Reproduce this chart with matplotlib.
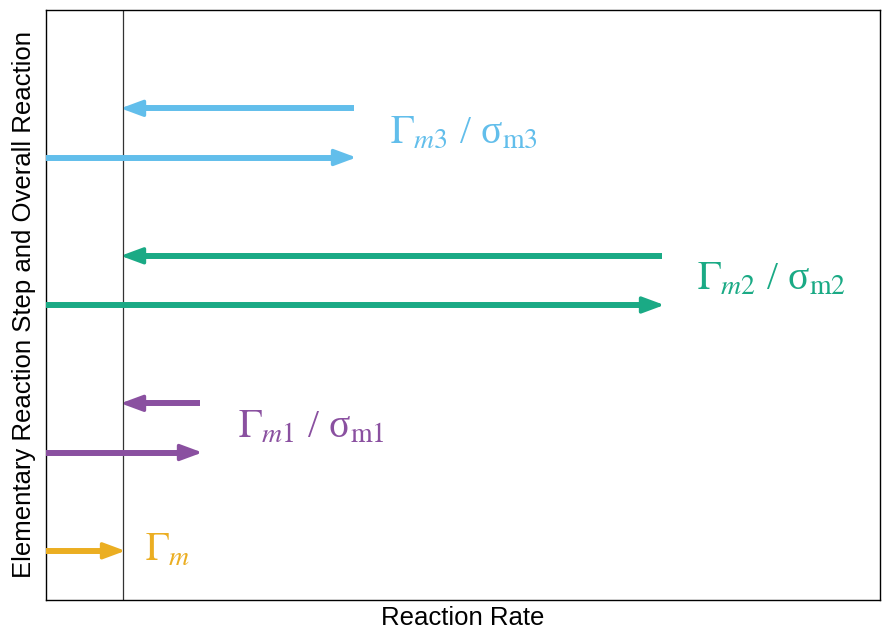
import matplotlib
matplotlib.use("Agg")
import matplotlib.pyplot as plt

plt.rcParams['mathtext.fontset'] = 'stix'
plt.rcParams['font.family'] = ['Liberation Sans', 'DejaVu Sans']

# data
steps = ["m", "m1", "m2", "m3"]
colors = ["#EBAE22", "#8A50A0", "#1AAA85", "#62BEEB"]
forward_rate = [1, 2, 8, 4]
backward_rate = [None, 2, 8, 4]
forward_y = [1, 3, 6, 9]
backward_y = [None, 4, 7, 10]
net_rate = 1
labels = [r"$\Gamma_{m}$",
          r"$\Gamma_{m1}$ / σ$_{\rm m1}$",
          r"$\Gamma_{m2}$ / σ$_{\rm m2}$",
          r"$\Gamma_{m3}$ / σ$_{\rm m3}$"]
label_x = [1.29, 2.49, 8.45, 4.47]
label_y = [1, 3.5, 6.5, 9.5]

fig = plt.figure(figsize=(8.82, 6.31), dpi=100)
ax = fig.add_axes([46/882, 1-600/631, (880-46)/882, (600-10)/631])
ax.set_xlim(0, 834/77)
ax.set_ylim(0, 12)

ax.axvline(net_rate, color="#333333", lw=0.9, zorder=1)

head_span = 0.12  # data length used only to orient the head


def arrow(x0, x1, y, c):
    d = 1 if x1 > x0 else -1
    ax.hlines(y, x0, x1 - d * 0.1, color=c, lw=4.3, capstyle="butt", zorder=3)
    ax.annotate("", xy=(x1 + d * 0.03, y), xytext=(x1 - d * head_span, y),
                arrowprops=dict(arrowstyle="-|>,head_length=1.35,head_width=0.5",
                                mutation_scale=10, lw=2.5, color=c,
                                shrinkA=0, shrinkB=0, joinstyle="round"),
                zorder=4)


for i in range(len(steps)):
    c = colors[i]
    arrow(0, forward_rate[i], forward_y[i], c)
    if backward_rate[i] is not None:
        arrow(backward_rate[i], net_rate, backward_y[i], c)
    ax.text(label_x[i], label_y[i], labels[i], color=c, fontsize=28.5,
            va="center", ha="left", family=["Liberation Serif", "DejaVu Serif"])

ax.set_xticks([])
ax.set_yticks([])
ax.set_xlabel("Reaction Rate", fontsize=18.5, labelpad=4)
ax.set_ylabel("Elementary Reaction Step and Overall Reaction", fontsize=18.5, labelpad=7)
for s in ax.spines.values():
    s.set_linewidth(1.0)

fig.savefig("out.png", dpi=100)
